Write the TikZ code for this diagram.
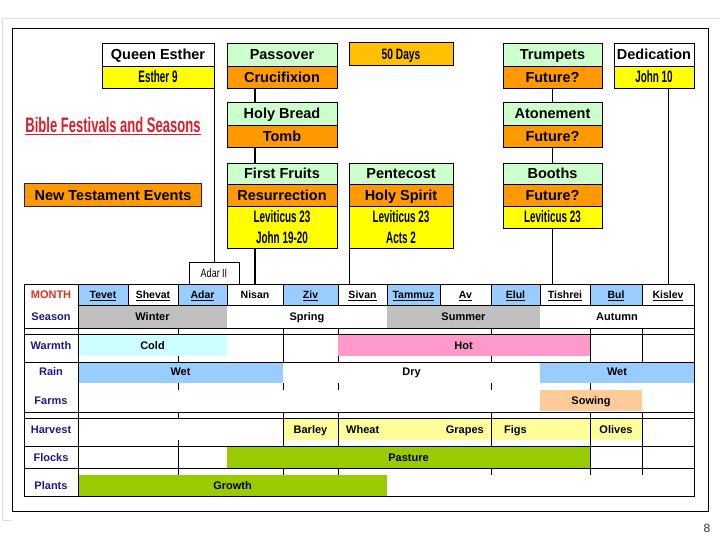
\documentclass[tikz,border=0pt]{standalone}
\usepackage{fontspec}
\setmainfont{Liberation Sans}
\usepackage{graphicx}
\usetikzlibrary{positioning}

\definecolor{festgreen}{HTML}{CCFFCC}
\definecolor{eventorange}{HTML}{FF9900}
\definecolor{daysorange}{HTML}{FFC000}
\definecolor{refyellow}{HTML}{FFFF00}
\definecolor{monthblue}{HTML}{99CCFF}
\definecolor{seasongray}{HTML}{C0C0C0}
\definecolor{coldcyan}{HTML}{CCFFFF}
\definecolor{hotpink}{HTML}{FF99CC}
\definecolor{sowpeach}{HTML}{FFCC99}
\definecolor{cropyellow}{HTML}{FFFF99}
\definecolor{grassgreen}{HTML}{99CC00}
\definecolor{labelblue}{HTML}{1A1A8C}
\definecolor{titlered}{HTML}{DC1E28}
\definecolor{monthred}{HTML}{E0301E}
\definecolor{navyedge}{HTML}{1F1F7A}
\definecolor{slideedge}{HTML}{D8DEE2}

\newcommand{\narrowtxt}[2][0.6]{\scalebox{#1}[1]{#2}}

\tikzset{
	festbox/.style={draw, rectangle, inner sep=0pt, outer sep=0pt, line width=0.8pt,
		text height=10.4pt, text depth=0pt, font=\bfseries\fontsize{14.5}{16}\selectfont},
	refbox/.style={festbox, fill=refyellow, text height={}, text depth={},
		font=\bfseries\fontsize{16.5}{21}\selectfont, align=center},
	cell/.style={inner sep=0pt, text height=7.9pt, text depth=0pt, font=\bfseries\fontsize{11}{12}\selectfont},
	monthcell/.style={draw, rectangle, inner sep=0pt, outer sep=0pt, line width=0.9pt,
		text height=7.6pt, text depth=0pt, font=\bfseries\fontsize{10.5}{12}\selectfont},
	rowlabel/.style={cell, text=labelblue},
	grid/.style={line width=0.9pt},
	link/.style={line width=0.9pt},
	thicklink/.style={line width=2pt},
}

\begin{document}
\begin{tikzpicture}[x=1pt, y=-1pt]
	\useasboundingbox (0,0) rectangle (720,540);
	% slide edges and frame
	\draw[slideedge, line width=1pt] (720,18.5) -- (2,18.5) -- (2,520) -- (12,520);
	\draw[line width=0.9pt] (12,28) rectangle (708,511);

	% festival boxes
	\node[festbox, fill=white, minimum width=112pt, minimum height=23pt, anchor=north west] (queen) at (102,43) {Queen Esther};
	\node[refbox, minimum width=112pt, minimum height=22pt, below=0pt of queen] (esther) {\narrowtxt{Esther 9}};

	\node[festbox, fill=festgreen, minimum width=110pt, minimum height=23pt, anchor=north west] (passover) at (227,43) {Passover};
	\node[festbox, fill=eventorange, minimum width=110pt, minimum height=22pt, below=0pt of passover] (crucifixion) {Crucifixion};
	\node[festbox, fill=festgreen, minimum width=110pt, minimum height=23pt, anchor=north west] (holybread) at (227,102) {Holy Bread};
	\node[festbox, fill=eventorange, minimum width=110pt, minimum height=22pt, below=0pt of holybread] (tomb) {Tomb};
	\node[festbox, fill=festgreen, minimum width=110pt, minimum height=21pt, anchor=north west] (firstfruits) at (227,163) {First Fruits};
	\node[festbox, fill=eventorange, minimum width=110pt, minimum height=22pt, below=0pt of firstfruits] (resurrection) {Resurrection};
	\node[refbox, minimum width=110pt, minimum height=42pt, below=0pt of resurrection] (johnref) {\narrowtxt{Leviticus 23}\\\narrowtxt{John 19-20}};

	\node[festbox, fill=daysorange, line width=1pt, minimum width=104pt, minimum height=23pt, anchor=north west,
		font=\bfseries\fontsize{15}{16}\selectfont] (fiftydays) at (349,43) {\narrowtxt[0.68]{50 Days}};
	\node[festbox, fill=festgreen, minimum width=104pt, minimum height=21pt, anchor=north west] (pentecost) at (349,163) {Pentecost};
	\node[festbox, fill=eventorange, minimum width=104pt, minimum height=22pt, below=0pt of pentecost] (holyspirit) {Holy Spirit};
	\node[refbox, minimum width=104pt, minimum height=42pt, below=0pt of holyspirit] (actsref) {\narrowtxt{Leviticus 23}\\\narrowtxt{Acts 2}};

	\node[festbox, fill=festgreen, minimum width=99pt, minimum height=23pt, anchor=north west] (trumpets) at (503,43) {Trumpets};
	\node[festbox, fill=eventorange, minimum width=99pt, minimum height=22pt, below=0pt of trumpets] (future1) {Future?};
	\node[festbox, fill=festgreen, minimum width=99pt, minimum height=23pt, anchor=north west] (atonement) at (503,102) {Atonement};
	\node[festbox, fill=eventorange, minimum width=99pt, minimum height=22pt, below=0pt of atonement] (future2) {Future?};
	\node[festbox, fill=festgreen, minimum width=99pt, minimum height=21pt, anchor=north west] (booths) at (503,163) {Booths};
	\node[festbox, fill=eventorange, minimum width=99pt, minimum height=22pt, below=0pt of booths] (future3) {Future?};
	\node[refbox, minimum width=99pt, minimum height=22pt, below=0pt of future3] (boothsref) {\narrowtxt{Leviticus 23}};

	\node[festbox, fill=white, minimum width=80pt, minimum height=23pt, anchor=north west] (dedication) at (614,43) {Dedication};
	\node[refbox, minimum width=80pt, minimum height=22pt, below=0pt of dedication] (john10) {\narrowtxt{John 10}};

	% title and legend
	\node[text=titlered, inner sep=0pt, font=\bfseries\fontsize{21}{24}\selectfont] (title) at (113,126)
		{\narrowtxt[0.62]{\underline{Bible Festivals and Seasons}}};
	\node[draw=navyedge, line width=1.6pt, fill=eventorange, minimum width=177pt, minimum height=23pt, inner sep=0pt,
		text height=10.4pt, text depth=0pt, font=\bfseries\fontsize{14.5}{16}\selectfont] (ntevents) at (113,195) {New Testament Events};

	% table fills under the grid
	\fill[seasongray] (78,305) rectangle (227,328);
	\fill[seasongray] (387,305) rectangle (540,328);
	\fill[cropyellow] (283,418) rectangle (642,440);

	% month row
	\foreach \a/\b/\n/\t/\c in {78/128/tevet/{\underline{Tevet}}/monthblue,
		128/178/shevat/{\underline{Shevat}}/white,
		178/227/adar/{\underline{Adar}}/monthblue,
		227/283/nisan/Nisan/white,
		283/338/ziv/{\underline{Ziv}}/monthblue,
		338/387/sivan/{\underline{Sivan}}/white,
		387/440/tammuz/{\underline{Tammuz}}/monthblue,
		440/491/av/{\underline{Av}}/white,
		491/540/elul/{\underline{Elul}}/monthblue,
		540/590/tishrei/{\underline{Tishrei}}/white,
		590/642/bul/{\underline{Bul}}/monthblue,
		642/694/kislev/{\underline{Kislev}}/white}
	{
		\pgfmathsetmacro\cw{\b-\a}
		\node[monthcell, fill=\c, minimum width=\cw pt, minimum height=21pt] (m-\n) at ({(\a+\b)/2},294.5) {\t};
	}

	% grid pieces
	\foreach \x in {178,283,338,491,590,642}
		\draw[grid] (\x,328) -- (\x,362);
	\foreach \x in {178,283,338,491,590}
		\draw[grid] (\x,383) -- (\x,390);
	\foreach \x in {283,338,491,590,642}
		\draw[grid] (\x,412) -- (\x,475);
	\draw[grid] (178,412) -- (178,418) (178,440) -- (178,475);

	% bars over the grid
	\fill[coldcyan] (78,335) rectangle (227,356);
	\fill[hotpink] (337.5,335) rectangle (589.5,356);
	\fill[monthblue] (78,362) rectangle (283,383);
	\fill[monthblue] (540,362) rectangle (694,383);
	\fill[sowpeach] (540,390) rectangle (642,411);
	\fill[grassgreen] (227,446) rectangle (589.5,468);
	\fill[grassgreen] (78,475) rectangle (387,496);

	% rules
	\draw[grid] (78,305) -- (694,305);
	\foreach \y in {328,334,362,412,418,446,468}
		\draw[grid] (24,\y) -- (694,\y);
	\draw[grid] (78,284) -- (78,496);
	\draw[grid] (24,284) rectangle (694,496);

	% row labels
	\node[rowlabel, text=monthred] (l-month) at (51,295) {MONTH};
	\node[rowlabel] (l-season) at (51,317) {Season};
	\node[rowlabel] (l-warmth) at (51,346) {Warmth};
	\node[rowlabel] (l-rain) at (51,372) {Rain};
	\node[rowlabel] (l-farms) at (51,401) {Farms};
	\node[rowlabel] (l-harvest) at (51,430) {Harvest};
	\node[rowlabel] (l-flocks) at (51,458) {Flocks};
	\node[rowlabel] (l-plants) at (51,486) {Plants};

	% cell texts
	\node[cell] (winter) at (152.5,317) {Winter};
	\node[cell] (spring) at (307,317) {Spring};
	\node[cell] (summer) at (463.5,317) {Summer};
	\node[cell] (autumn) at (617,317) {Autumn};
	\node[cell] (cold) at (152.5,346) {Cold};
	\node[cell] (hot) at (463.5,346) {Hot};
	\node[cell] (wet1) at (180.5,372) {Wet};
	\node[cell] (dry) at (411.5,372) {Dry};
	\node[cell] (wet2) at (617,372) {Wet};
	\node[cell] (sowing) at (591,401) {Sowing};
	\node[cell] (barley) at (310.5,430) {Barley};
	\node[cell, anchor=west] (wheat) at (346,430) {Wheat};
	\node[cell, anchor=east] (grapes) at (484,430) {Grapes};
	\node[cell, anchor=west] (figs) at (504,430) {Figs};
	\node[cell] (olives) at (616,430) {Olives};
	\node[cell] (pasture) at (408.5,458) {Pasture};
	\node[cell] (growth) at (232.5,486) {Growth};

	% Adar II
	\node[draw, fill=white, line width=0.8pt, minimum width=50pt, minimum height=22pt, inner sep=0pt, outer sep=0pt,
		anchor=south, font=\fontsize{12}{14}\selectfont] (adartwo) at (esther.south east |- m-adar.north) {\narrowtxt[0.75]{Adar II}};

	% links to the months
	\draw[thicklink] (crucifixion.south -| m-nisan) -- (holybread.north -| m-nisan);
	\draw[thicklink] (tomb.south -| m-nisan) -- (firstfruits.north -| m-nisan);
	\draw[thicklink] (johnref.south -| m-nisan) -- (m-nisan.north);
	\draw[link] (esther.south east) -- (adartwo.north);
	\draw[link] (actsref.south west) -- (actsref.south west |- m-sivan.north);
	\draw[link] (future1.south) -- (atonement.north);
	\draw[link] (future2.south) -- (booths.north);
	\draw[link] (boothsref.south) -- (boothsref.south |- m-tishrei.north);
	\draw[link] (john10.south -| m-kislev) -- (m-kislev.north);

	\node[text=black!80, font=\fontsize{12}{14}\selectfont] (pagenum) at (707,528) {8};
\end{tikzpicture}
\end{document}
